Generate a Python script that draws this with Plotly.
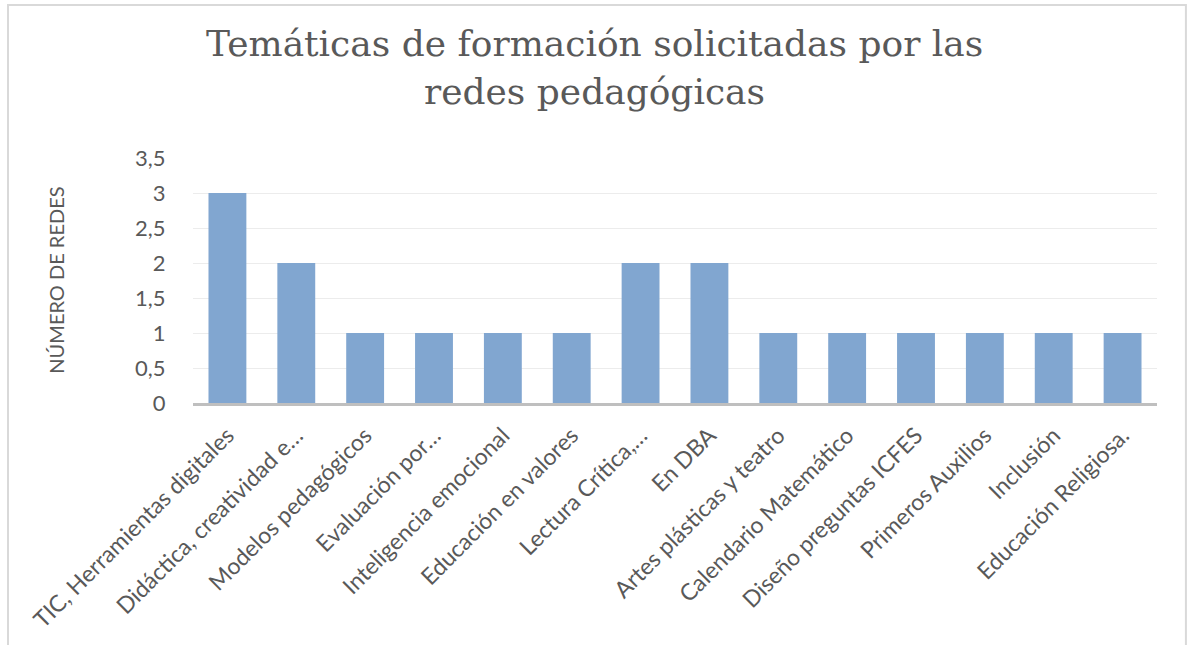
import plotly.graph_objects as go

categories = [
    "TIC, Herramientas digitales",
    "Didáctica, creatividad e…",
    "Modelos pedagógicos",
    "Evaluación por…",
    "Inteligencia emocional",
    "Educación en valores",
    "Lectura Crítica,…",
    "En DBA",
    "Artes plásticas y teatro",
    "Calendario Matemático",
    "Diseño preguntas ICFES",
    "Primeros Auxilios",
    "Inclusión",
    "Educación Religiosa.",
]
values = [3, 2, 1, 1, 1, 1, 2, 2, 1, 1, 1, 1, 1, 1]
ytick_vals = [0, 0.5, 1, 1.5, 2, 2.5, 3, 3.5]
ytick_text = ["0", "0,5", "1", "1,5", "2", "2,5", "3", "3,5"]

title_lines = ["Temáticas de formación solicitadas por las", "redes pedagógicas"]
ytitle = "NÚMERO DE REDES"

gray = "#595959"

fig = go.Figure(
    go.Bar(
        x=categories,
        y=values,
        marker=dict(color="rgb(129,166,208)", line=dict(width=0)),
    )
)

annotations = [
    dict(
        text=ytitle,
        xref="paper",
        yref="paper",
        x=-0.143,
        y=0.5,
        xanchor="center",
        yanchor="middle",
        textangle=-90,
        showarrow=False,
        font=dict(family="Lato", size=20, color=gray),
    )
]
for line, ypos in zip(title_lines, [1.466, 1.272]):
    annotations.append(
        dict(
            text=line,
            xref="paper",
            yref="paper",
            x=0.417,
            y=ypos,
            xanchor="center",
            yanchor="middle",
            showarrow=False,
            font=dict(family="DejaVu Serif", size=36, color=gray),
        )
    )

fig.update_layout(
    width=1189,
    height=645,
    paper_bgcolor="white",
    plot_bgcolor="white",
    margin=dict(l=193, r=32, t=158, b=242),
    bargap=0.45,
    showlegend=False,
    font=dict(family="Lato", color=gray, size=22),
    xaxis=dict(
        tickangle=-45,
        showline=True,
        linecolor="#bfbfbf",
        linewidth=3,
        showgrid=False,
        ticks="",
        ticklabelstandoff=7,
        tickfont=dict(family="Lato", size=23, color=gray),
    ),
    yaxis=dict(
        range=[0, 3.5],
        tickvals=ytick_vals,
        ticktext=ytick_text,
        showgrid=True,
        gridcolor="#ececec",
        gridwidth=1,
        zeroline=False,
        showline=False,
        ticks="outside",
        ticklen=22,
        tickcolor="rgba(0,0,0,0)",
        tickfont=dict(family="Lato", size=22, color=gray),
    ),
    annotations=annotations,
    shapes=[
        dict(
            type="rect",
            xref="paper",
            yref="paper",
            x0=-0.1919,
            x1=1.0300,
            y0=-1.02,
            y1=1.6245,
            line=dict(color="#d9d9d9", width=2),
            fillcolor="rgba(0,0,0,0)",
            layer="below",
        )
    ],
)

fig.write_html(
    "out.html",
    config={"displayModeBar": False},
    post_script="document.body.style.margin='0';",
)
